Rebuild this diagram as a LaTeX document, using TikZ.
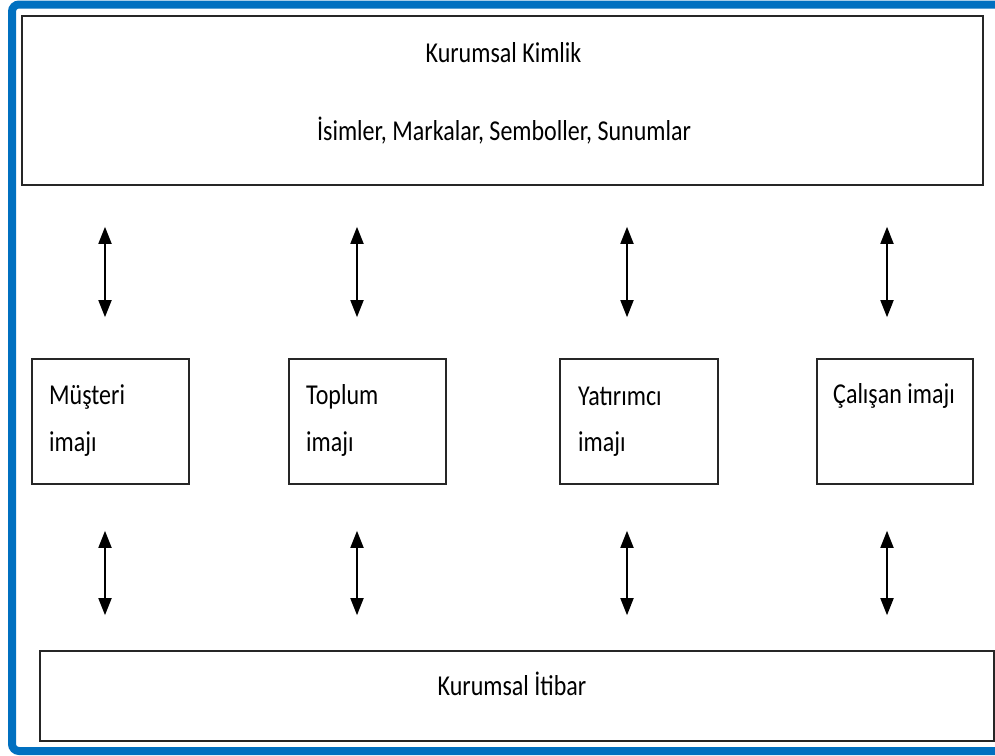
\documentclass[tikz,border=0pt]{standalone}
\usepackage{fontspec}
\usepackage{graphicx}
\setmainfont{Carlito}
\usetikzlibrary{arrows.meta}
\newcommand{\tallt}[1]{\scalebox{1}[1.2]{#1}}
\definecolor{frameblue}{HTML}{0070C0}
\tikzset{
  box/.style={draw=black!85, line width=1.6pt, fill=white, rectangle, inner sep=0pt},
  lbl/.style={font=\fontsize{24}{24}\selectfont, inner sep=0pt},
  biarrow/.style={line width=1.8pt, {Triangle[length=17pt,width=13pt]}-{Triangle[length=17pt,width=13pt]}}
}
\begin{document}
\begin{tikzpicture}[x=1pt,y=-1pt]
  \useasboundingbox (0,0) rectangle (995,755);
  \begin{scope}
    \clip (0,0) rectangle (995,755);
    \fill[white] (0,0) rectangle (995,755);
    % outer blue frame, its right side runs past the page
    \draw[frameblue, line width=8pt, rounded corners=7pt] (12,4.5) rectangle (1010,751);
  \end{scope}

  % boxes
  \node[box, minimum width=961pt, minimum height=169pt] (top) at (502.5,100.5) {};
  \node[box, minimum width=954pt, minimum height=90pt] (bot) at (517,696) {};
  \node[box, minimum width=157pt, minimum height=125pt] (m1) at (110.5,421.5) {};
  \node[box, minimum width=157pt, minimum height=125pt] (m2) at (367.5,421.5) {};
  \node[box, minimum width=158pt, minimum height=125pt] (m3) at (639,421.5) {};
  \node[box, minimum width=156pt, minimum height=125pt] (m4) at (895,421.5) {};

  % texts
  \node[lbl, anchor=base] (t1) at (503.5,62) {\tallt{Kurumsal Kimlik}};
  \node[lbl, anchor=base] (t2) at (504,140) {\tallt{İsimler, Markalar, Semboller, Sunumlar}};
  \node[lbl, anchor=base] (t3) at (512,695) {\tallt{Kurumsal İtibar}};
  \node[lbl, anchor=base west] (a1) at (49,404) {\tallt{Müşteri}};
  \node[lbl, anchor=base west] (b1) at (49,451) {\tallt{imajı}};
  \node[lbl, anchor=base west] (a2) at (306,404) {\tallt{Toplum}};
  \node[lbl, anchor=base west] (b2) at (306,451) {\tallt{imajı}};
  \node[lbl, anchor=base west] (a3) at (578,405) {\tallt{Yatırımcı}};
  \node[lbl, anchor=base west] (b3) at (578,451) {\tallt{imajı}};
  \node[lbl, anchor=base west] (a4) at (833,403) {\tallt{Çalışan imajı}};

  % column positions of the arrows
  \coordinate (c1) at (105,0);
  \coordinate (c2) at (357,0);
  \coordinate (c3) at (627,0);
  \coordinate (c4) at (887,0);

  % arrows between the top box and the image boxes
  \foreach \i in {1,2,3,4}{
    \draw[biarrow, shorten <=41pt, shorten >=41pt] (top.south -| c\i) -- (m\i.north -| c\i);
    \draw[biarrow, shorten <=46pt, shorten >=35pt] (m\i.south -| c\i) -- (bot.north -| c\i);
  }
\end{tikzpicture}
\end{document}
